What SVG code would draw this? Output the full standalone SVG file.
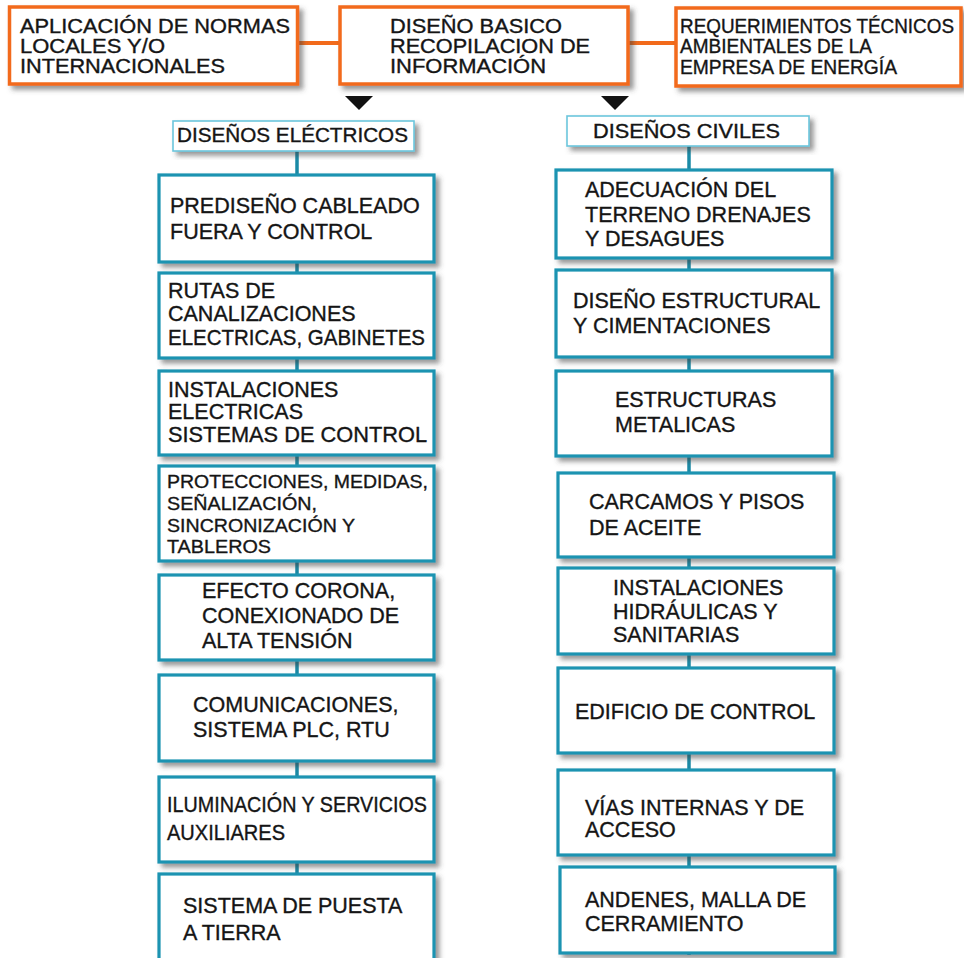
<svg xmlns="http://www.w3.org/2000/svg" width="964" height="958" viewBox="0 0 964 958">
  <defs>
    <filter id="shadow" x="-10%" y="-10%" width="130%" height="140%">
      <feDropShadow dx="4" dy="4" stdDeviation="2.4" flood-color="#444" flood-opacity="0.55"/>
    </filter>
    <style>
      text { font-family: "Liberation Sans", Arial, sans-serif; font-size: 21.5px; fill: #151515; stroke: #151515; stroke-width: 0.35; }
      .top { fill: #fff; stroke: #f26a1b; stroke-width: 3.5; filter: url(#shadow); }
      .head { fill: #fff; stroke: #6cc6dc; stroke-width: 1.6; filter: url(#shadow); }
      .item { fill: #fff; stroke: #1a93b1; stroke-width: 3.2; filter: url(#shadow); }
      .hlink { stroke: #f26a1b; stroke-width: 4; fill: none; }
      .vlink { stroke: #1a8aa6; stroke-width: 3.5; fill: none; }
      .tri { fill: #111; }
      .hd { font-size: 19.5px; }
      .tp { font-size: 19.5px; }
      .sm { font-size: 19px; }
    </style>
  </defs>
  <rect width="964" height="958" fill="#fff"/>

  <!-- connectors -->
  <g id="connectors">
    <line class="hlink" x1="296" y1="43" x2="342" y2="43"/>
    <line class="hlink" x1="626" y1="43" x2="678" y2="43"/>
    <line class="vlink" x1="297" y1="151" x2="297" y2="958"/>
    <line class="vlink" x1="689" y1="146" x2="689" y2="955"/>
    <polygon class="tri" points="345,96 373,96 359,110"/>
    <polygon class="tri" points="601,96 629,96 615,110"/>
  </g>

  <!-- top row -->
  <g id="normas">
    <rect class="top" x="9.5" y="7" width="288" height="77"/>
    <text class="tp" x="20" y="33" textLength="270" lengthAdjust="spacingAndGlyphs">APLICACIÓN DE NORMAS</text>
    <text class="tp" x="20" y="53" textLength="145" lengthAdjust="spacingAndGlyphs">LOCALES Y/O</text>
    <text class="tp" x="20" y="73" textLength="205" lengthAdjust="spacingAndGlyphs">INTERNACIONALES</text>
  </g>
  <g id="diseno-basico">
    <rect class="top" x="340" y="7" width="288" height="77"/>
    <text class="tp" x="390" y="33" textLength="172" lengthAdjust="spacingAndGlyphs">DISEÑO BASICO</text>
    <text class="tp" x="390" y="53" textLength="200" lengthAdjust="spacingAndGlyphs">RECOPILACION DE</text>
    <text class="tp" x="390" y="73" textLength="156" lengthAdjust="spacingAndGlyphs">INFORMACIÓN</text>
  </g>
  <g id="requerimientos">
    <rect class="top" x="676" y="8" width="285" height="78"/>
    <text class="tp" x="680" y="33" textLength="274" lengthAdjust="spacingAndGlyphs">REQUERIMIENTOS TÉCNICOS</text>
    <text class="tp" x="680" y="53" textLength="192" lengthAdjust="spacingAndGlyphs">AMBIENTALES DE LA</text>
    <text class="tp" x="680" y="74" textLength="217" lengthAdjust="spacingAndGlyphs">EMPRESA DE ENERGÍA</text>
  </g>

  <!-- headers -->
  <g id="electricos">
    <rect class="head" x="173" y="121" width="241" height="30"/>
    <text class="hd" x="177" y="142" textLength="231" lengthAdjust="spacingAndGlyphs">DISEÑOS ELÉCTRICOS</text>
  </g>
  <g id="civiles">
    <rect class="head" x="567" y="116" width="242" height="30"/>
    <text class="hd" x="593" y="138" textLength="187" lengthAdjust="spacingAndGlyphs">DISEÑOS CIVILES</text>
  </g>

  <!-- electrical column -->
  <g id="e1">
    <rect class="item" x="159" y="175" width="275" height="87"/>
    <text x="170" y="213">PREDISEÑO CABLEADO</text>
    <text x="170" y="239">FUERA Y CONTROL</text>
  </g>
  <g id="e2">
    <rect class="item" x="159" y="273" width="275" height="85"/>
    <text x="168" y="298">RUTAS DE</text>
    <text x="168" y="321">CANALIZACIONES</text>
    <text x="168" y="345" textLength="257" lengthAdjust="spacingAndGlyphs">ELECTRICAS, GABINETES</text>
  </g>
  <g id="e3">
    <rect class="item" x="159" y="371" width="275" height="84"/>
    <text x="168" y="397">INSTALACIONES</text>
    <text x="168" y="419">ELECTRICAS</text>
    <text x="168" y="442" textLength="259" lengthAdjust="spacingAndGlyphs">SISTEMAS DE CONTROL</text>
  </g>
  <g id="e4">
    <rect class="item" x="159" y="466" width="275" height="95"/>
    <text class="sm" x="167" y="488" textLength="261" lengthAdjust="spacingAndGlyphs">PROTECCIONES, MEDIDAS,</text>
    <text class="sm" x="167" y="510" textLength="150" lengthAdjust="spacingAndGlyphs">SEÑALIZACIÓN,</text>
    <text class="sm" x="167" y="532" textLength="188" lengthAdjust="spacingAndGlyphs">SINCRONIZACIÓN Y</text>
    <text class="sm" x="167" y="553" textLength="104" lengthAdjust="spacingAndGlyphs">TABLEROS</text>
  </g>
  <g id="e5">
    <rect class="item" x="159" y="575" width="275" height="85"/>
    <text x="202" y="598">EFECTO CORONA,</text>
    <text x="202" y="623">CONEXIONADO DE</text>
    <text x="202" y="648">ALTA TENSIÓN</text>
  </g>
  <g id="e6">
    <rect class="item" x="159" y="675" width="275" height="86"/>
    <text x="193" y="712">COMUNICACIONES,</text>
    <text x="193" y="737">SISTEMA PLC, RTU</text>
  </g>
  <g id="e7">
    <rect class="item" x="159" y="777" width="275" height="85"/>
    <text x="167" y="812" textLength="260" lengthAdjust="spacingAndGlyphs">ILUMINACIÓN Y SERVICIOS</text>
    <text x="167" y="840" textLength="118" lengthAdjust="spacingAndGlyphs">AUXILIARES</text>
  </g>
  <g id="e8">
    <rect class="item" x="159" y="874" width="275" height="100"/>
    <text x="183" y="913">SISTEMA DE PUESTA</text>
    <text x="183" y="940">A TIERRA</text>
  </g>

  <!-- civil column -->
  <g id="c1">
    <rect class="item" x="556" y="170" width="276" height="88"/>
    <text x="585" y="197">ADECUACIÓN DEL</text>
    <text x="585" y="222">TERRENO DRENAJES</text>
    <text x="585" y="246">Y DESAGUES</text>
  </g>
  <g id="c2">
    <rect class="item" x="556" y="270" width="276" height="87"/>
    <text x="573" y="308">DISEÑO ESTRUCTURAL</text>
    <text x="573" y="333">Y CIMENTACIONES</text>
  </g>
  <g id="c3">
    <rect class="item" x="556" y="371" width="276" height="85"/>
    <text x="615" y="407">ESTRUCTURAS</text>
    <text x="615" y="432">METALICAS</text>
  </g>
  <g id="c4">
    <rect class="item" x="558" y="473" width="276" height="84"/>
    <text x="589" y="509">CARCAMOS Y PISOS</text>
    <text x="589" y="535">DE ACEITE</text>
  </g>
  <g id="c5">
    <rect class="item" x="558" y="568" width="276" height="86"/>
    <text x="613" y="595">INSTALACIONES</text>
    <text x="613" y="619">HIDRÁULICAS Y</text>
    <text x="613" y="642">SANITARIAS</text>
  </g>
  <g id="c6">
    <rect class="item" x="558" y="668" width="276" height="85"/>
    <text x="575" y="719">EDIFICIO DE CONTROL</text>
  </g>
  <g id="c7">
    <rect class="item" x="558" y="770" width="276" height="85"/>
    <text x="585" y="815">VÍAS INTERNAS Y DE</text>
    <text x="585" y="837">ACCESO</text>
  </g>
  <g id="c8">
    <rect class="item" x="560" y="867" width="275" height="86"/>
    <text x="585" y="907">ANDENES, MALLA DE</text>
    <text x="585" y="931">CERRAMIENTO</text>
  </g>
</svg>
